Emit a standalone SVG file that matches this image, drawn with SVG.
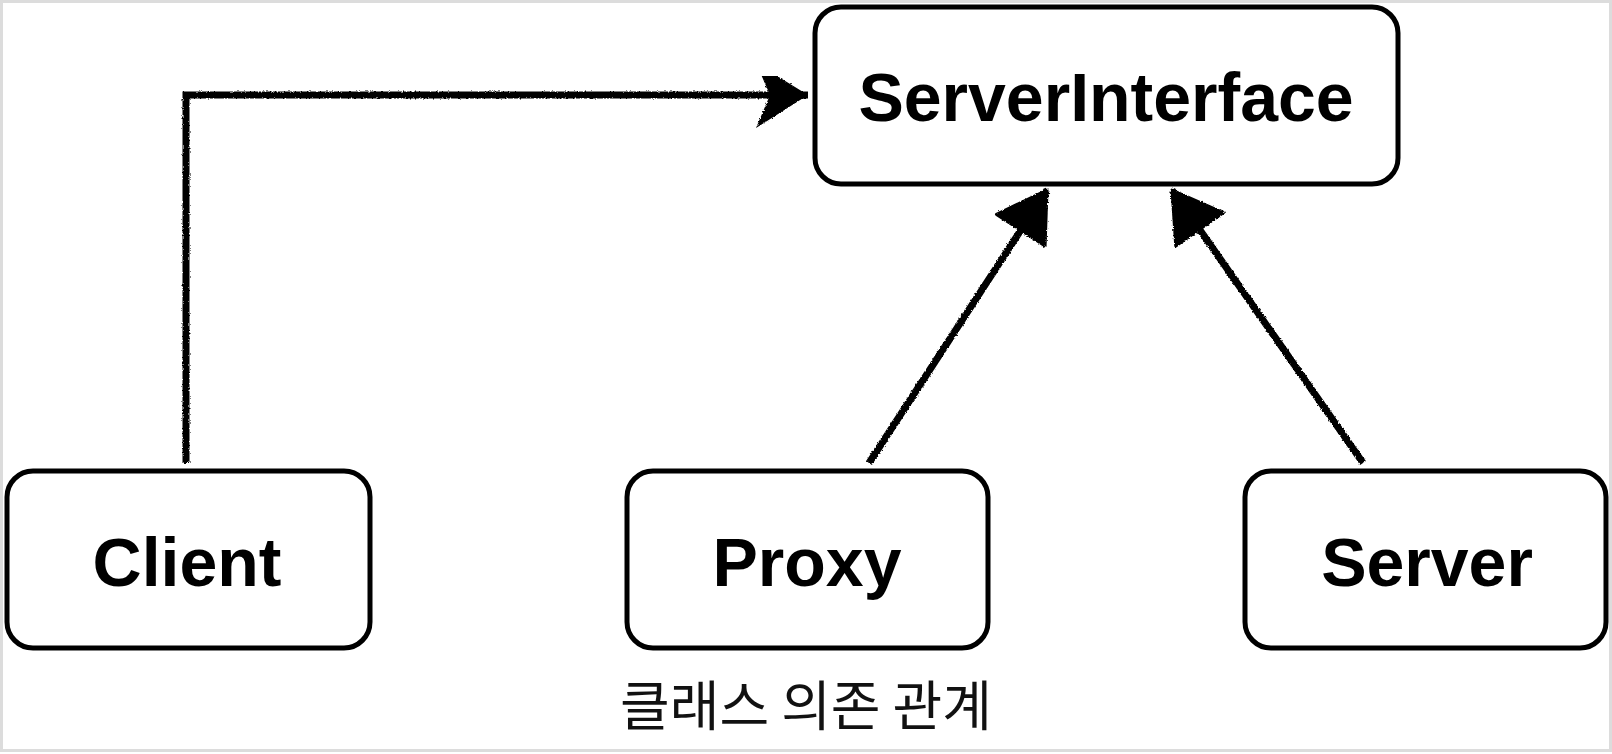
<svg xmlns="http://www.w3.org/2000/svg" width="1612" height="754" viewBox="0 0 1612 754">
<style>
.box{fill:#fff;stroke:#000;stroke-width:5}
.lbl{font-family:"Liberation Sans",Arial,sans-serif;font-weight:bold;font-size:68px;fill:#000;text-anchor:middle}
.cap{font-family:"Noto Sans CJK KR","Noto Sans",sans-serif;font-size:54px;fill:#111;text-anchor:middle}
.edge{fill:none;stroke:#000;stroke-width:7;stroke-linejoin:miter}
</style>
<defs>
<filter id="rough" x="-5%" y="-5%" width="110%" height="110%">
<feTurbulence type="fractalNoise" baseFrequency="0.6" numOctaves="2" seed="3" result="n"/>
<feDisplacementMap in="SourceGraphic" in2="n" scale="3" xChannelSelector="R" yChannelSelector="G"/>
</filter>
<marker id="barb" markerUnits="userSpaceOnUse" markerWidth="70" markerHeight="80" refX="60" refY="35" orient="auto">
<path d="M60,35 L8,3 L22,35 L8,68 Z" fill="#000"/>
</marker>
<marker id="tri" markerUnits="userSpaceOnUse" markerWidth="70" markerHeight="80" refX="56" refY="35" orient="auto">
<path d="M56,35 L8,6 L8,64 Z" fill="#000" stroke="#000" stroke-width="3" stroke-linejoin="round"/>
</marker>
</defs>
<rect x="1.5" y="1.5" width="1609" height="749" fill="#fff" stroke="#dcdcdc" stroke-width="3"/>
<g id="connectors" filter="url(#rough)">
<path class="edge" d="M186,463 L186,95 L808,95" marker-end="url(#barb)"/>
<path class="edge" d="M869,463 L1047,190" marker-end="url(#tri)"/>
<path class="edge" d="M1363,463 L1172,190" marker-end="url(#tri)"/>
</g>
<g id="ServerInterface">
<rect class="box" x="815" y="7" width="583" height="177" rx="26"/>
<text class="lbl" x="1106" y="121">ServerInterface</text>
</g>
<g id="Client">
<rect class="box" x="7" y="471" width="363" height="177" rx="26"/>
<text class="lbl" x="187" y="586">Client</text>
</g>
<g id="Proxy">
<rect class="box" x="627" y="471" width="361" height="177" rx="26"/>
<text class="lbl" x="807" y="586">Proxy</text>
</g>
<g id="Server">
<rect class="box" x="1245" y="471" width="361" height="177" rx="26"/>
<text class="lbl" x="1427" y="586">Server</text>
</g>
<g id="caption">
<text class="cap" x="806" y="726">클래스 의존 관계</text>
</g>
</svg>
